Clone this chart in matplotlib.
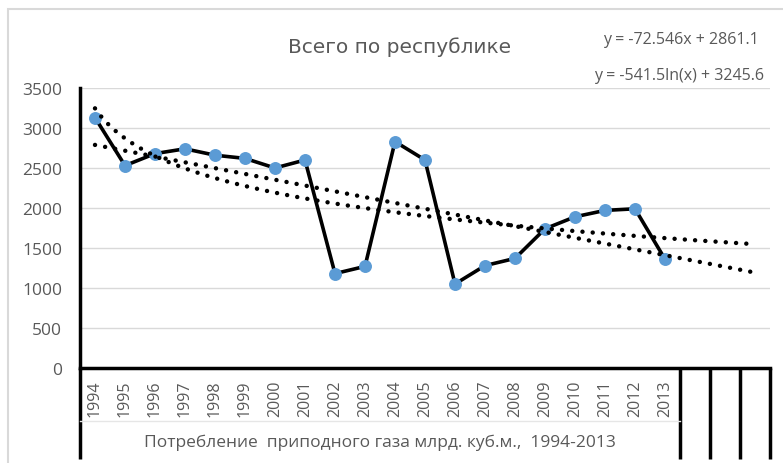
import numpy as np
import matplotlib.pyplot as plt
from matplotlib.transforms import blended_transform_factory

years = [str(y) for y in range(1994, 2014)]
gas = [3130, 2530, 2680, 2740, 2660, 2620, 2500, 2600, 1180, 1270,
       2830, 2600, 1050, 1280, 1370, 1740, 1890, 1970, 1990, 1360]
n_empty = 3  # empty categories after 2013 (forecast)

lin_a, lin_b = -72.546, 2861.1
log_a, log_b = -541.5, 3245.6

title = 'Всего по республике'
axis_caption = 'Потребление  приподного газа млрд. куб.м.,  1994-2013'
eq_lin = 'y = -72.546x + 2861.1'
eq_log = 'y = -541.5ln(x) + 3245.6'

grey = '#595959'
blue = '#5B9BD5'
tick_font = ['Open Sans', 'DejaVu Sans']

W, H = 783, 464
fig = plt.figure(figsize=(W / 100, H / 100), dpi=100)
ax = fig.add_axes([80 / W, 1 - 369 / H, 690 / W, 280 / H])

n_cat = len(years) + n_empty
idx = np.arange(len(years))

# series
ax.plot(idx, gas, color='black', lw=2.6, marker='o', ms=8.3,
        mfc=blue, mec=blue, zorder=3)

# trendlines, x = 1..n_cat as in Excel
xt = np.linspace(1, n_cat, 200)
dot = dict(color='black', lw=3.2, ls=(0, (0.01, 2.3)),
           dash_capstyle='round', zorder=4)
ax.plot(xt - 1, lin_a * xt + lin_b, **dot)
ax.plot(xt - 1, log_a * np.log(xt) + log_b, **dot)

ax.set_xlim(-0.5, n_cat - 0.5)
ax.set_ylim(0, 3500)
ax.set_yticks(np.arange(0, 3501, 500))
ax.grid(axis='y', color='#d9d9d9', lw=1)
ax.set_axisbelow(True)
for s in ['top', 'right']:
    ax.spines[s].set_visible(False)
ax.spines['left'].set_linewidth(2.5)
ax.spines['bottom'].set_linewidth(2.5)
ax.tick_params(axis='y', length=0, pad=13, labelcolor=grey)
for lab in ax.get_yticklabels():
    lab.set_family(tick_font)
    lab.set_fontsize(12.5)

ax.set_xticks(idx)
ax.set_xticklabels(years, rotation=90, color=grey, family=tick_font, fontsize=11.5)
ax.tick_params(axis='x', length=0, pad=8)

# multi-level category axis lines
tr = blended_transform_factory(ax.transData, ax.transAxes)
y_bot = -(460 - 369) / 280
for xv in [-0.5, len(years) - 0.5, len(years) + 0.5, len(years) + 1.5, n_cat - 0.5]:
    ax.plot([xv, xv], [0, y_bot], transform=tr, color='black', lw=2.5,
            clip_on=False, solid_capstyle='butt')
y_mid = -(422 - 369) / 280
ax.plot([-0.5, len(years) - 0.5], [y_mid, y_mid], transform=tr,
        color='#e6e6e6', lw=1, clip_on=False)
ax.text((len(years) - 1) / 2, -(443 - 369) / 280, axis_caption, transform=tr,
        ha='center', va='center', color=grey, fontsize=12.5,
        family=['Liberation Sans Narrow', 'Open Sans', 'DejaVu Sans'])

# chart border
fig.add_artist(plt.Rectangle((8 / W, -0.1), 1, 1 - 10 / H + 0.1,
                             transform=fig.transFigure, fill=False,
                             ec='#d9d9d9', lw=1.5))

fig.text(400 / W, 1 - 47 / H, title, ha='center', va='center',
         fontsize=14.5, color=grey)
fig.text(681 / W, 1 - 40 / H, eq_lin, ha='center', va='center',
         fontsize=11.5, color=grey, family=tick_font)
fig.text(679 / W, 1 - 76 / H, eq_log, ha='center', va='center',
         fontsize=11.5, color=grey, family=tick_font)

fig.savefig('out.png', dpi=100)
